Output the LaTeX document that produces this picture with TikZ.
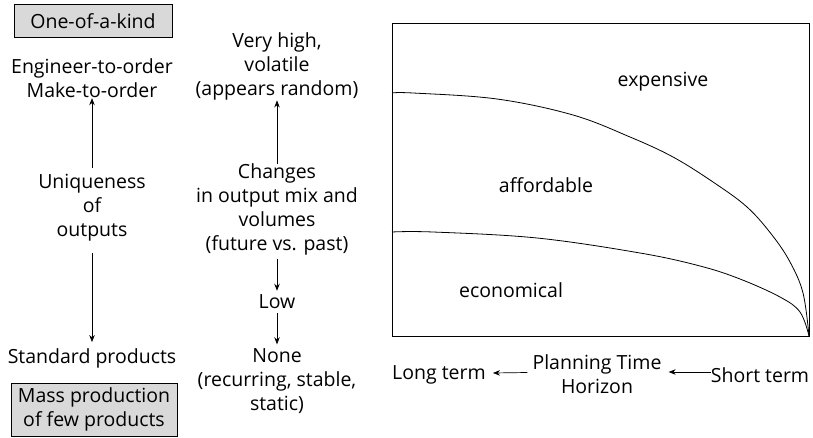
\documentclass[tikz,border=0pt]{standalone}
\usepackage{fontspec}
\setmainfont{Open Sans}
\usetikzlibrary{arrows.meta}
\definecolor{boxgray}{HTML}{D9D9D9}
\begin{document}
\begin{tikzpicture}[x=1pt,y=-1pt,
  font=\fontsize{19.5}{24}\selectfont,
  txt/.style={align=center, inner sep=0pt},
  gbox/.style={draw, fill=boxgray, align=center, inner sep=0pt, line width=0.8pt},
  arr/.style={-{Stealth[length=7pt,width=5.5pt]}, line width=0.7pt},
  curve/.style={line width=0.8pt}]
\useasboundingbox (0,0) rectangle (813,438);
% left column
\node[gbox, minimum width=158pt, minimum height=33pt] (one) at (93,21) {One-of-a-kind};
\node[txt] (eto) at (92,78.5) {Engineer-to-order\\Make-to-order};
\node[txt] (uniq) at (92,207.5) {Uniqueness\\of\\outputs};
\node[txt] (std) at (92,358) {Standard products};
\node[gbox, minimum width=166pt, minimum height=53pt] (mass) at (94,409.5) {Mass production\\of few products};
\draw[arr] ([yshift=6pt]uniq.north) -- (eto.south);
\draw[arr] ([yshift=-12pt]uniq.south) -- ([yshift=6pt]std.north);
% middle column
\node[txt] (vh) at (277,66.5) {Very high,\\volatile\\(appears random)};
\node[txt] (chg) at (277,209.5) {Changes\\in output mix and\\volumes\\(future vs. past)};
\node[txt] (low) at (277,302) {Low};
\node[txt] (none) at (277,381) {None\\(recurring, stable,\\static)};
\draw[arr] (chg.north) -- (vh.south);
\draw[arr] ([yshift=-4pt]chg.south) -- ([yshift=4pt]low.north);
\draw[arr] ([yshift=-4pt]low.south) -- ([yshift=4pt]none.north);
% graph
\node[draw, line width=0.8pt, minimum width=417pt, minimum height=313pt, inner sep=0pt] (frame) at (600.5,179.5) {};
\draw[curve] plot[smooth, tension=0.6] coordinates {(392,93) (413,93) (497,99) (573,115) (630,137) (673,157) (713,182) (747,207) (772,235) (790,262) (803,293) (809,336)};
\draw[curve] plot[smooth, tension=0.6] coordinates {(392,232) (433,232) (537,238) (640,253) (700,266) (740,279) (780,297) (800,312) (809,336)};
\node[txt] (exp) at (663,82) {expensive};
\node[txt] (aff) at (546,185) {affordable};
\node[txt] (eco) at (511,290) {economical};
% bottom axis
\node[txt] (long) at (439,375) {Long term};
\node[txt] (plan) at (597,374.5) {Planning Time\\Horizon};
\node[txt] (short) at (760,375) {Short term};
\draw[arr] ([xshift=-5pt,yshift=2pt]plan.west) -- ([xshift=7pt,yshift=2pt]long.east);
\draw[arr] ([yshift=3pt]short.west) -- ([xshift=7pt,yshift=3pt]short.west -| plan.east);
\end{tikzpicture}
\end{document}
